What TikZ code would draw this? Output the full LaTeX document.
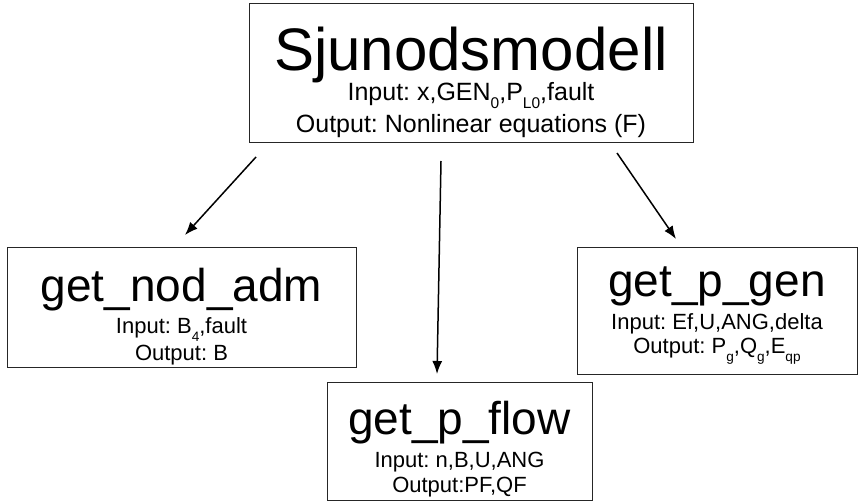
\documentclass[tikz,border=0pt]{standalone}
\usepackage{fontspec}
\setmainfont{Liberation Sans}
\usetikzlibrary{arrows.meta}
\frenchspacing
\newcommand\lowsub[1]{\raisebox{-0.32em}{\scalebox{0.62}{#1}}}
\tikzset{
  box/.style={draw=black!85, line width=1pt, inner sep=0pt},
  bigtitle/.style={anchor=base, inner sep=0pt, font=\fontsize{60}{72}\selectfont},
  subtitle/.style={anchor=base, inner sep=0pt, font=\fontsize{46}{55}\selectfont},
  bigline/.style={anchor=base, inner sep=0pt, font=\fontsize{25}{30}\selectfont},
  smallline/.style={anchor=base, inner sep=0pt, font=\fontsize{22}{26}\selectfont},
  conn/.style={line width=1.5pt, -{Latex[length=13pt,width=10pt]}}
}
\begin{document}
\begin{tikzpicture}[x=1pt,y=-1pt]
\useasboundingbox (0,0) rectangle (859,502);
% boxes
\node[box, minimum width=444pt, minimum height=139pt] (top) at (471,73.5) {};
\node[box, minimum width=349pt, minimum height=119pt] (left) at (181.5,307.5) {};
\node[box, minimum width=265pt, minimum height=118pt] (bottom) at (459.5,441) {};
\node[box, minimum width=280pt, minimum height=126pt] (right) at (717,311) {};
% texts
\node[bigtitle] (toptitle) at (471,71) {Sjunodsmodell};
\node[bigline] (topin) at (471,101) {Input: x,GEN\lowsub{0},P\lowsub{L0},fault};
\node[bigline] (topout) at (471,133) {Output: Nonlinear equations (F)};
\node[subtitle] (lefttitle) at (181.5,302) {get\_nod\_adm};
\node[smallline] (leftin) at (181.5,334) {Input: B\lowsub{4},fault};
\node[smallline] (leftout) at (181.5,360) {Output: B};
\node[subtitle] (bottomtitle) at (459.5,434) {get\_p\_flow};
\node[smallline] (bottomin) at (459.5,467) {Input: n,B,U,ANG};
\node[smallline] (bottomout) at (459.5,492) {Output:PF,QF};
\node[subtitle] (righttitle) at (717,297) {get\_p\_gen};
\node[smallline] (rightin) at (717,330) {Input: Ef,U,ANG,delta};
\node[smallline] (rightout) at (717,354) {Output: P\lowsub{g},Q\lowsub{g},E\lowsub{qp}};
% connector ends
\coordinate (l0) at (256,157);
\coordinate (l1) at (185,235);
\coordinate (m0) at (441,161);
\coordinate (m1) at (437,374);
\coordinate (r0) at (617,153);
\coordinate (r1) at (676,239);
\draw[conn] (l0) -- (l1);
\draw[conn] (m0) -- (m1);
\draw[conn] (r0) -- (r1);
\end{tikzpicture}
\end{document}
